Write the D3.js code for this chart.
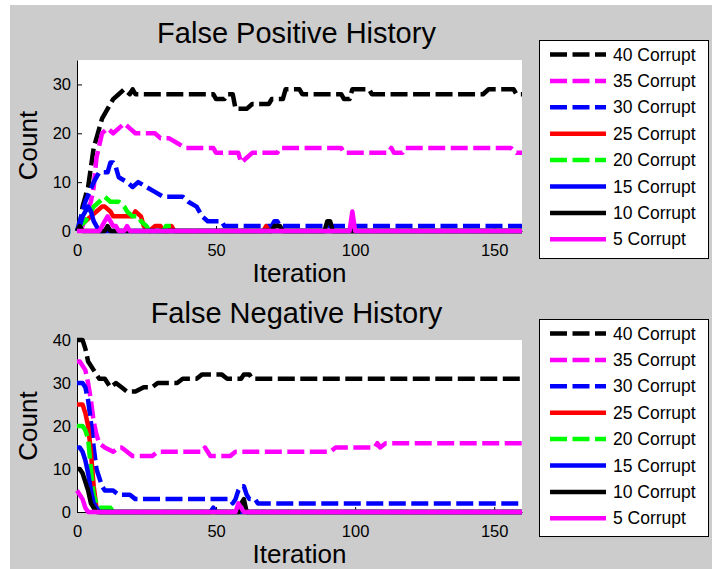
<!DOCTYPE html>
<html>
<head>
<meta charset="utf-8">
<script src="https://cdn.jsdelivr.net/npm/d3@7"></script>
<style>
  body { margin: 0; background: #fff; }
  svg { display: block; font-family: "Liberation Sans", Arial, sans-serif; }
</style>
</head>
<body>
<svg id="chart" width="712" height="569"></svg>
<script>
// Legend order / styling of the eight runs
const seriesLabels = ['40 Corrupt', '35 Corrupt', '30 Corrupt', '25 Corrupt', '20 Corrupt', '15 Corrupt', '10 Corrupt', '5 Corrupt'];
const seriesColors = ['#000000', '#ff00ff', '#0000ff', '#ff0000', '#00ff00', '#0000ff', '#000000', '#ff00ff'];
const seriesDashed = [true, true, true, false, true, false, false, false];

const xTicks = [0, 50, 100, 150];
const fpYTicks = [0, 10, 20, 30];
const fnYTicks = [0, 10, 20, 30, 40];

// False positive history: [iteration, count]
const fp40 = [[0,0],[1,1],[2,5],[4,9],[5,13],[6,17],[8,21],[9,23],[11,25],[13,27],[15,28],[17,29],[19,28],[20,29],[21,28],[49,28],[50,27],[53,27],[54,28],[56,28],[57,25],[61,25],[63,26],[69,26],[70,27],[74,27],[75,29],[80,29],[81,28],[95,28],[96,27],[98,27],[99,29],[105,29],[106,28],[146,28],[148,29],[157,29],[158,28],[160,28]];
const fp35 = [[0,0],[2,1],[3,3],[5,6],[6,9],[7,15],[9,20],[11,21],[13,20],[15,21],[17,22],[19,21],[21,20],[28,20],[30,19],[33,19],[36,18],[39,17],[49,17],[50,16],[58,16],[59,14],[61,15],[63,16],[72,16],[73,17],[95,17],[96,16],[112,16],[113,17],[114,16],[117,16],[118,17],[156,17],[158,16],[160,16]];
const fp30 = [[0,0],[1,2],[2,4],[3,6],[6,10],[8,12],[11,12],[12,14],[13,14],[14,13],[15,11],[18,10],[20,9],[22,10],[25,9],[28,8],[31,7],[38,7],[40,6],[43,5],[45,3],[47,2],[52,2],[53,1],[70,1],[71,2],[72,2],[73,1],[160,1]];
const fp25 = [[0,0],[1,1],[3,2],[5,3],[7,4],[9,5],[10,5],[12,4],[13,3],[20,3],[21,4],[23,3],[24,1],[26,0],[28,1],[30,1],[31,0],[33,0],[34,1],[35,0],[67,0],[68,1],[69,0],[160,0]];
const fp20 = [[0,0],[1,1],[3,2],[4,3],[6,5],[8,6],[10,7],[12,6],[15,6],[17,5],[18,4],[20,3],[22,3],[23,2],[25,1],[26,0],[31,0],[32,1],[34,1],[35,0],[160,0]];
const fp15 = [[0,0],[1,1],[2,3],[4,5],[5,4],[6,2],[7,1],[8,0],[160,0]];
const fp10 = [[0,0],[1,1],[2,0],[10,0],[11,1],[12,0],[70,0],[71,1],[73,1],[74,0],[89,0],[90,2],[91,2],[92,0],[160,0]];
const fp5 = [[0,0],[8,0],[9,1],[10,2],[11,3],[12,2],[13,1],[14,1],[15,0],[17,0],[18,1],[19,0],[98,0],[99,4],[100,0],[160,0]];

// False negative history: [iteration, count]
const fn40 = [[0,40],[2,40],[3,38],[4,35],[6,33],[8,31],[10,31],[12,29],[14,30],[16,29],[18,28],[21,28],[24,29],[27,29],[29,30],[36,30],[38,31],[43,31],[45,32],[52,32],[54,31],[59,31],[60,32],[62,32],[63,31],[160,31]];
const fn35 = [[0,35],[1,35],[2,34],[3,33],[4,30],[5,26],[6,21],[7,18],[8,16],[10,15],[13,14],[15,15],[16,15],[18,14],[20,13],[27,13],[29,14],[45,14],[46,15],[47,14],[48,13],[55,13],[57,14],[91,14],[93,15],[107,15],[108,16],[109,15],[111,16],[160,16]];
const fn30 = [[0,30],[2,30],[3,29],[4,26],[5,21],[6,15],[7,10],[8,8],[9,6],[10,5],[13,5],[15,4],[19,4],[21,3],[55,3],[56,2],[57,3],[58,5],[59,6],[60,6],[61,4],[62,3],[64,3],[65,2],[160,2]];
const fn25 = [[0,25],[2,25],[3,23],[4,20],[5,14],[6,6],[7,1],[8,0],[160,0]];
const fn20 = [[0,20],[2,20],[3,19],[4,17],[5,10],[6,4],[7,2],[8,1],[12,1],[13,0],[160,0]];
const fn15 = [[0,15],[1,15],[2,14],[3,12],[4,9],[5,5],[6,2],[7,1],[8,0],[48,0],[49,1],[50,0],[160,0]];
const fn10 = [[0,10],[1,10],[2,9],[3,7],[4,5],[5,2],[6,1],[7,0],[58,0],[59,2],[60,3],[61,0],[160,0]];
const fn5 = [[0,5],[1,4],[2,3],[3,1],[4,0],[57,0],[58,2],[59,1],[60,0],[160,0]];

const svg = d3.select('#chart');

// figure background (MATLAB grey)
svg.append('rect')
  .attr('x', 10).attr('y', 5)
  .attr('width', 702).attr('height', 564)
  .attr('fill', '#cccccc');

const LEFT = 77, RIGHT = 522;
const LINE_W = 4.5;
const DASH = '17,5.5';

const panels = [
  { title: 'False Positive History', top: 60, bottom: 231, yMax: 35, yTicks: fpYTicks,
    data: [fp40, fp35, fp30, fp25, fp20, fp15, fp10, fp5], legendTop: 40, legendBottom: 258 },
  { title: 'False Negative History', top: 340, bottom: 512, yMax: 40, yTicks: fnYTicks,
    data: [fn40, fn35, fn30, fn25, fn20, fn15, fn10, fn5], legendTop: 319, legendBottom: 536 }
];

function drawPanel(p) {
  const x = d3.scaleLinear().domain([0, 160]).range([LEFT, RIGHT]);
  const y = d3.scaleLinear().domain([0, p.yMax]).range([p.bottom, p.top]);
  const g = svg.append('g');

  g.append('rect')
    .attr('x', LEFT).attr('y', p.top)
    .attr('width', RIGHT - LEFT).attr('height', p.bottom - p.top)
    .attr('fill', '#fff');

  // axes (ticks point inward, like MATLAB)
  const xAxis = g.append('g')
    .attr('transform', `translate(0,${p.bottom})`)
    .call(d3.axisBottom(x).tickValues(xTicks).tickSize(-5).tickPadding(13).tickSizeOuter(0));
  const yAxis = g.append('g')
    .attr('transform', `translate(${LEFT},0)`)
    .call(d3.axisLeft(y).tickValues(p.yTicks).tickSize(-5).tickPadding(6).tickSizeOuter(0));

  [xAxis, yAxis].forEach(ax => {
    ax.select('.domain').attr('stroke', '#000').attr('stroke-width', 1);
    ax.selectAll('.tick line').attr('stroke', '#000');
    ax.selectAll('.tick text')
      .attr('fill', '#000')
      .style('font-size', '16.5px')
      .style('font-family', '"Liberation Sans", Arial, sans-serif');
  });

  const line = d3.line().x(d => x(d[0])).y(d => y(d[1]));

  p.data.forEach((series, i) => {
    g.append('path')
      .datum(series)
      .attr('d', line)
      .attr('fill', 'none')
      .attr('stroke', seriesColors[i])
      .attr('stroke-width', LINE_W)
      .attr('stroke-linejoin', 'round')
      .attr('stroke-dasharray', seriesDashed[i] ? DASH : null);
  });

  // title and axis labels
  g.append('text')
    .attr('x', (LEFT + RIGHT) / 2 - 3)
    .attr('y', p.top - 17)
    .attr('text-anchor', 'middle')
    .style('font-size', '29px')
    .attr('fill', '#000')
    .text(p.title);

  g.append('text')
    .attr('x', (LEFT + RIGHT) / 2)
    .attr('y', p.bottom + 51)
    .attr('text-anchor', 'middle')
    .style('font-size', '26px')
    .attr('fill', '#000')
    .text('Iteration');

  g.append('text')
    .attr('transform', `translate(37,${(p.top + p.bottom) / 2}) rotate(-90)`)
    .attr('text-anchor', 'middle')
    .style('font-size', '26px')
    .attr('fill', '#000')
    .text('Count');

  // legend
  const lg = g.append('g');
  lg.append('rect')
    .attr('x', 539.5).attr('y', p.legendTop + 0.5)
    .attr('width', 169).attr('height', p.legendBottom - p.legendTop)
    .attr('fill', '#fff')
    .attr('stroke', '#000')
    .attr('stroke-width', 1);

  const rowY = i => p.legendTop + 14.5 + i * 26.4;
  seriesLabels.forEach((label, i) => {
    lg.append('line')
      .attr('x1', 550).attr('x2', 606)
      .attr('y1', rowY(i)).attr('y2', rowY(i))
      .attr('stroke', seriesColors[i])
      .attr('stroke-width', LINE_W)
      .attr('stroke-dasharray', seriesDashed[i] ? DASH : null);
    lg.append('text')
      .attr('x', 613)
      .attr('y', rowY(i))
      .attr('dy', '0.35em')
      .style('font-size', '17.5px')
      .attr('fill', '#000')
      .text(label);
  });
}

panels.forEach(drawPanel);
</script>
</body>
</html>
